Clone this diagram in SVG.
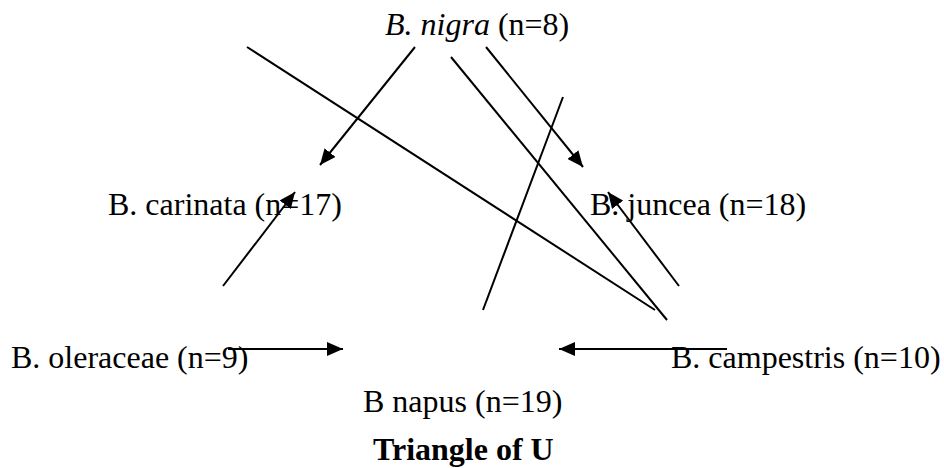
<svg xmlns="http://www.w3.org/2000/svg" width="944" height="468" viewBox="0 0 944 468">
<style>
  text { font-family: "Liberation Serif", "Times New Roman", serif; font-size: 32px; fill: #000; }
  .title { font-weight: bold; }
  .c line { stroke: #000; stroke-width: 2; fill: none; }
</style>
<defs>
  <marker id="ah" markerUnits="userSpaceOnUse" markerWidth="16" markerHeight="14" viewBox="0 0 16 14" refX="16" refY="7" orient="auto">
    <path d="M0,0 L16,7 L0,14 Z" fill="#000"/>
  </marker>
</defs>
<rect width="944" height="468" fill="#fff"/>
<g id="connectors" class="c">
  <line x1="247" y1="47" x2="655" y2="310"/>
  <line x1="415" y1="47" x2="320" y2="165" marker-end="url(#ah)"/>
  <line x1="451" y1="57" x2="667" y2="320"/>
  <line x1="486" y1="47" x2="583" y2="167" marker-end="url(#ah)"/>
  <line x1="563" y1="97" x2="483" y2="310"/>
  <line x1="223" y1="286" x2="295" y2="192" marker-end="url(#ah)"/>
  <line x1="679" y1="286" x2="608" y2="192" marker-end="url(#ah)"/>
  <line x1="228" y1="349" x2="343" y2="349" marker-end="url(#ah)"/>
  <line x1="727" y1="349" x2="559" y2="349" marker-end="url(#ah)"/>
</g>
<g id="nigra"><text x="385" y="35"><tspan font-style="italic">B. nigra</tspan> (n=8)</text></g>
<g id="carinata"><text x="108" y="215">B. carinata (n=17)</text></g>
<g id="juncea"><text x="590" y="215">B. juncea (n=18)</text></g>
<g id="oleraceae"><text x="11" y="368">B. oleraceae (n=9)</text></g>
<g id="campestris"><text x="671" y="368">B. campestris (n=10)</text></g>
<g id="napus"><text x="363" y="412">B napus (n=19)</text></g>
<g id="title"><text class="title" x="373" y="460">Triangle of U</text></g>
</svg>
